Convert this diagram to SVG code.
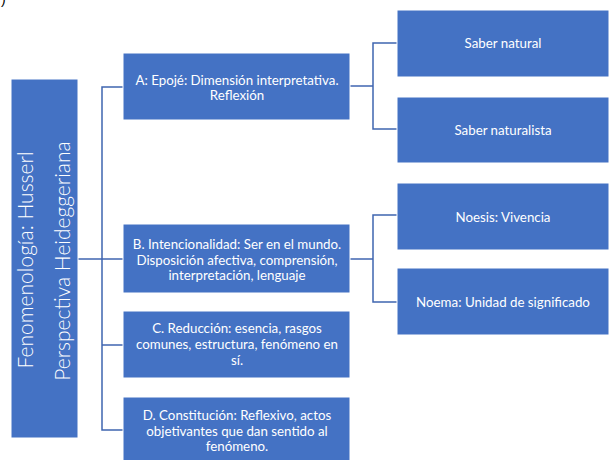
<svg xmlns="http://www.w3.org/2000/svg" width="610" height="460" viewBox="0 0 610 460">
  <style>
    .box { fill: #4472C4; stroke: #ffffff; stroke-width: 1; }
    .lbl { font-family: Lato, "Liberation Sans", sans-serif; font-size: 13.3px; fill: #ffffff; text-anchor: middle; }
    .root { font-family: Lato, "Liberation Sans", sans-serif; font-size: 21px; font-weight: 300; fill: #ffffff; text-anchor: middle; }
    .wire { fill: none; stroke: #3F65B0; stroke-width: 1.5; }
    .corner { font-family: "Liberation Sans", sans-serif; font-size: 14px; fill: #000000; }
  </style>
  <rect width="610" height="460" fill="#ffffff"/>
  <text class="corner" x="1" y="4">)</text>

  <!-- connectors -->
  <g id="connectors">
    <path class="wire" d="M78,259 H102"/>
    <path class="wire" d="M123,87 H102 V430 H123"/>
    <path class="wire" d="M102,259 H123"/>
    <path class="wire" d="M102,345 H123"/>
    <path class="wire" d="M350,86 H373"/>
    <path class="wire" d="M397,43 H373 V129 H397"/>
    <path class="wire" d="M350,259 H373"/>
    <path class="wire" d="M397,215 H373 V302 H397"/>
  </g>

  <!-- root -->
  <g id="root">
    <rect class="box" x="11" y="79" width="67" height="359"/>
    <text class="root" transform="translate(33,260) rotate(-90)">Fenomenología: Husserl</text>
    <text class="root" transform="translate(70,261) rotate(-90)">Perspectiva Heideggeriana</text>
  </g>

  <!-- second level -->
  <g id="nodeA">
    <rect class="box" x="123" y="53" width="227" height="67"/>
    <text class="lbl" x="237" y="85">A: Epojé: Dimensión interpretativa.</text>
    <text class="lbl" x="237" y="100">Reflexión</text>
  </g>
  <g id="nodeB">
    <rect class="box" x="123" y="224" width="227" height="69"/>
    <text class="lbl" x="237" y="249">B. Intencionalidad: Ser en el mundo.</text>
    <text class="lbl" x="237" y="264.5">Disposición afectiva, comprensión,</text>
    <text class="lbl" x="237" y="280">interpretación, lenguaje</text>
  </g>
  <g id="nodeC">
    <rect class="box" x="123" y="311" width="227" height="67"/>
    <text class="lbl" x="237" y="333">C. Reducción: esencia, rasgos</text>
    <text class="lbl" x="237" y="349">comunes, estructura, fenómeno en</text>
    <text class="lbl" x="237" y="365">sí.</text>
  </g>
  <g id="nodeD">
    <rect class="box" x="123" y="397" width="227" height="67"/>
    <text class="lbl" x="237" y="420">D. Constitución: Reflexivo, actos</text>
    <text class="lbl" x="237" y="436">objetivantes que dan sentido al</text>
    <text class="lbl" x="237" y="451">fenómeno.</text>
  </g>

  <!-- third level -->
  <g id="saberNatural">
    <rect class="box" x="397" y="10" width="212" height="67"/>
    <text class="lbl" x="503" y="48">Saber natural</text>
  </g>
  <g id="saberNaturalista">
    <rect class="box" x="397" y="97" width="212" height="66"/>
    <text class="lbl" x="503" y="135">Saber naturalista</text>
  </g>
  <g id="noesis">
    <rect class="box" x="397" y="183" width="212" height="67"/>
    <text class="lbl" x="503" y="222">Noesis: Vivencia</text>
  </g>
  <g id="noema">
    <rect class="box" x="397" y="268" width="212" height="67"/>
    <text class="lbl" x="503" y="307">Noema: Unidad de significado</text>
  </g>
</svg>
